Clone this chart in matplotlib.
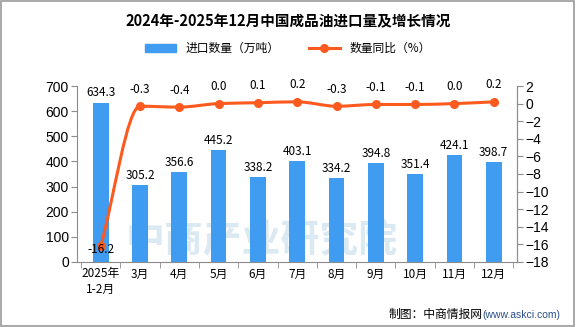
import numpy as np
import matplotlib.pyplot as plt
from matplotlib.path import Path
from matplotlib.patches import PathPatch, Rectangle, Patch
from matplotlib.lines import Line2D

plt.rcParams['font.family'] = ['Liberation Sans', 'Noto Sans CJK SC', 'DejaVu Sans']

months = ['2025年\n1-2月', '3月', '4月', '5月', '6月', '7月', '8月', '9月', '10月', '11月', '12月']
import_volume = [634.3, 305.2, 356.6, 445.2, 338.2, 403.1, 334.2, 394.8, 351.4, 424.1, 398.7]
yoy_change = [-16.2, -0.3, -0.4, 0.0, 0.1, 0.2, -0.3, -0.1, -0.1, 0.0, 0.2]

BAR_COLOR = '#3f9cf1'
LINE_COLOR = '#fc5a1e'
AXIS_GRAY = '#8c8c8c'
CJK = ['Noto Sans CJK SC']

fig = plt.figure(figsize=(5.76, 3.27), dpi=100)
fig.patches.append(Rectangle((0.002, 0.003), 0.995, 0.994, transform=fig.transFigure,
                             fill=False, edgecolor='#9a9a9a', linewidth=1.2))

ax = fig.add_axes([0.134, 0.199, 0.764, 0.538])
x = np.arange(len(months))

# faint brand text sitting behind the bars
ax.text(0.42, 0.12, '中商产业研究院', transform=ax.transAxes, ha='center', va='center',
        fontsize=28, fontweight='bold', color='#dbe9f2', zorder=0, family=CJK)

ax.bar(x, import_volume, width=0.4, color=BAR_COLOR, zorder=2)
ax.set_ylim(0, 700)
ax.set_yticks(range(0, 701, 100))
ax.set_xlim(-0.6, len(months) - 0.4)
ax.set_xticks(x)
ax.set_xticklabels(months, fontsize=8.5, family=CJK)
ax.set_xticks(np.arange(-0.5, len(months)), minor=True)
ax.tick_params(axis='x', which='major', length=0, pad=4)
ax.tick_params(axis='x', which='minor', length=4, color=AXIS_GRAY)
ax.tick_params(axis='y', labelsize=10, length=4, color=AXIS_GRAY, pad=2)
ax.spines['top'].set_visible(False)
for s in ['left', 'bottom', 'right']:
    ax.spines[s].set_color(AXIS_GRAY)

for xi, v in zip(x, import_volume):
    ax.text(xi, v + 12, f'{v:.1f}', ha='center', va='bottom', fontsize=8.5, family=CJK)

ax2 = ax.twinx()
ax2.set_ylim(-18, 2)
ax2.set_yticks(range(-18, 3, 2))
ax2.tick_params(axis='y', labelsize=10, length=4, color=AXIS_GRAY, pad=2)
for s in ['top', 'left', 'bottom']:
    ax2.spines[s].set_visible(False)
ax2.spines['right'].set_color(AXIS_GRAY)

# smooth monotone curve through the points, drawn as cubic Bezier segments
pts = np.column_stack([x, yoy_change]).astype(float)
n = len(pts)
d = np.diff(pts[:, 1])
m = np.zeros(n)
m[0], m[-1] = d[0], d[-1]
for i in range(1, n - 1):
    if d[i - 1] * d[i] > 0:
        m[i] = 2 / (1 / d[i - 1] + 1 / d[i])
verts = [tuple(pts[0])]
codes = [Path.MOVETO]
for i in range(n - 1):
    p1, p2 = pts[i], pts[i + 1]
    verts += [(p1[0] + 1 / 3, p1[1] + m[i] / 3),
              (p2[0] - 1 / 3, p2[1] - m[i + 1] / 3),
              tuple(p2)]
    codes += [Path.CURVE4] * 3
ax2.add_patch(PathPatch(Path(verts, codes), fill=False, edgecolor=LINE_COLOR,
                        linewidth=2.2, zorder=3))
ax2.plot(x, yoy_change, 'o', color=LINE_COLOR, markersize=5.5, zorder=4)

for xi, v in zip(x, yoy_change):
    if v < -5:
        ax2.text(xi, v - 0.4, f'{v:.1f}', ha='center', va='center', fontsize=8.5,
                 family=CJK, zorder=5)
    else:
        ax2.text(xi, v + 1.2, f'{v:.1f}', ha='center', va='bottom', fontsize=8.5, family=CJK)

fig.text(0.5, 0.935, '2024年-2025年12月中国成品油进口量及增长情况', ha='center', va='center',
         fontsize=10.5, fontweight='bold', family=CJK)

handles = [Patch(color=BAR_COLOR),
           Line2D([0], [0], color=LINE_COLOR, lw=2.2, marker='o', markersize=5.5)]
fig.legend(handles, ['进口数量（万吨）', '数量同比（%）'], loc='center', ncol=2,
           bbox_to_anchor=(0.5, 0.852), frameon=False,
           handlelength=2.6, columnspacing=2.5, prop={'family': CJK, 'size': 8.5})

fig.text(0.838, 0.037, '制图：中商情报网', ha='right', va='center', fontsize=8.5, family=CJK)
fig.text(0.838, 0.037, '(www.askci.com)', ha='left', va='center', fontsize=7.5,
         color='#2b4f8a')

fig.savefig('out.png', dpi=100)
